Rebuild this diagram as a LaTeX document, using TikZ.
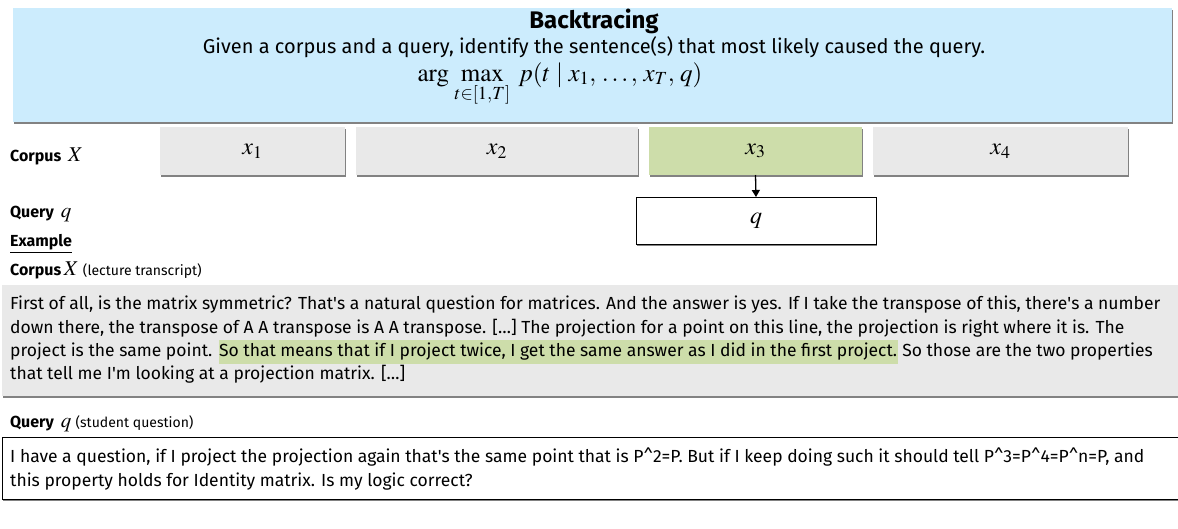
\documentclass[tikz,border=0pt]{standalone}
\usepackage{mathptmx}
\usepackage[no-math]{fontspec}
\setmainfont{Fira Sans}
\usetikzlibrary{shadows,arrows.meta}
\definecolor{bluebg}{RGB}{204,236,253}
\definecolor{graybg}{RGB}{233,233,233}
\definecolor{greenbg}{RGB}{205,221,170}
\newcommand{\hlgreen}[1]{{\setlength{\fboxsep}{0.5pt}\colorbox{greenbg}{\strut #1}}}
\newcommand{\aq}{\textquotesingle}
\newcommand{\paren}[1]{{\fontsize{14}{16}\selectfont #1}}
\begin{document}
\begin{tikzpicture}[x=1pt,y=-1pt,
  shade/.style={drop shadow={shadow xshift=1.3pt,shadow yshift=-1.6pt,opacity=0.75,fill=black!65}},
  cell/.style={shade,fill=graybg,draw=none,minimum height=48pt,outer sep=0pt,inner sep=0pt,anchor=north west,font=\fontsize{24}{28}\selectfont},
  lbl/.style={anchor=west,inner sep=0pt,font=\fontsize{16}{19}\selectfont},
  body/.style={anchor=north west,inner sep=0pt,align=left,font=\fontsize{17.5}{23.3}\selectfont}]
\useasboundingbox (0,0) rectangle (1178,528);
\fill[white] (0,0) rectangle (1178,528);
% header
\node[shade,fill=bluebg,minimum width=1159pt,minimum height=114pt,anchor=north west,inner sep=0pt,outer sep=0pt] (hdr) at (13,8) {};
\node[inner sep=0pt,font=\fontsize{24}{28}\selectfont\bfseries] (title) at (594,21) {Backtracing};
\node[inner sep=0pt,font=\fontsize{20}{24}\selectfont] (sub) at (594,47) {Given a corpus and a query, identify the sentence(s) that most likely caused the query.};
\node[inner sep=0pt,anchor=base,font=\fontsize{25}{28}\selectfont] (formula) at (560,81) {$\displaystyle \arg\,\max_{t\in[1,T]}\; p(t\;|\;x_1,\,\ldots,\,x_T,\,q)$};
% corpus row
\node[lbl] (clab) at (10,156) {\textbf{Corpus} \,{\fontsize{21}{24}\selectfont$X$}};
\node[cell,minimum width=185pt] (x1) at (160,127) {$x_1$};
\node[cell,minimum width=282pt] (x2) at (356,127) {$x_2$};
\node[cell,minimum width=213pt,fill=greenbg] (x3) at (649,127) {$x_3$};
\node[cell,minimum width=255pt] (x4) at (873,127) {$x_4$};
\node[lbl] (qlab) at (10,214) {\textbf{Query} \,{\fontsize{21}{24}\selectfont$q$}};
\node[cell,fill=white,draw=black,line width=0.8pt,minimum width=240pt,minimum height=47pt] (q) at (636,197) {$q$};
\draw[line width=1.3pt,-{Triangle[length=7pt,width=8pt]}] (x3.south) -- (q.north);
% example
\node[lbl] (ex) at (10,244) {\underline{\textbf{Example}}};
\node[lbl] (chead) at (10,270) {\textbf{Corpus}\,{\fontsize{21}{24}\selectfont$X$} \paren{(lecture transcript)}};
\node[shade,fill=graybg,minimum width=1190pt,minimum height=111pt,anchor=north west,inner sep=0pt,outer sep=0pt] (cbox) at (2,285) {};
\node[body] (ctext) at (10,296) {First of all, is the matrix symmetric? That\aq s a natural question for matrices. And the answer is yes. If I take the transpose of this, there\aq s a number\\
down there, the transpose of A A transpose is A A transpose. […] The projection for a point on this line, the projection is right where it is. The\\
project is the same point. \hlgreen{So that means that if I project twice, I get the same answer as I did in the first project.} So those are the two properties\\
that tell me I\aq m looking at a projection matrix. […]};
\node[lbl] (qhead) at (10,424) {\textbf{Query} \,{\fontsize{21}{24}\selectfont$q$} \paren{(student question)}};
\node[shade,fill=white,draw=black,line width=0.8pt,minimum width=1190pt,minimum height=62pt,anchor=north west,inner sep=0pt,outer sep=0pt] (qbox) at (2,437) {};
\node[body] (qtext) at (10,448) {I have a question, if I project the projection again that\aq s the same point that is P\textasciicircum 2=P. But if I keep doing such it should tell P\textasciicircum 3=P\textasciicircum 4=P\textasciicircum n=P, and\\
this property holds for Identity matrix. Is my logic correct?};
\end{tikzpicture}
\end{document}
